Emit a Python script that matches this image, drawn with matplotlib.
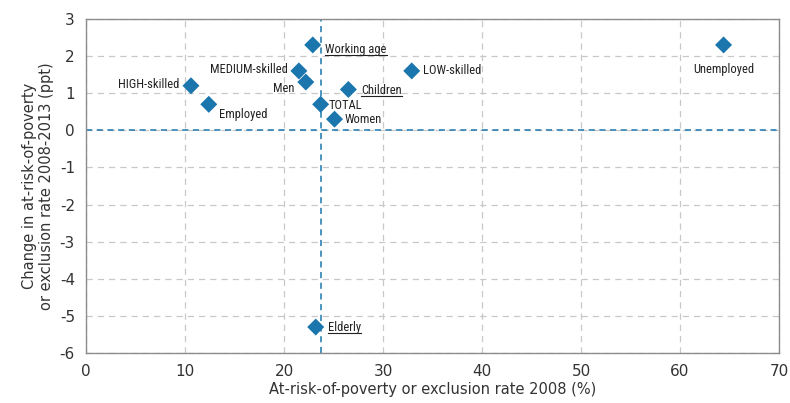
import matplotlib
matplotlib.use("Agg")
from matplotlib import pyplot as plt
from matplotlib import font_manager
import numpy as np

# groups, 2008 rate (%) and change 2008-2013 (ppt)
groups = ['Working age', 'MEDIUM-skilled', 'Men', 'HIGH-skilled', 'Employed', 'TOTAL',
          'Children', 'Women', 'LOW-skilled', 'Unemployed', 'Elderly']
rate_2008 = [22.9, 21.5, 22.2, 10.6, 12.4, 23.7, 26.5, 25.1, 32.9, 64.4, 23.2]
change = [2.3, 1.6, 1.3, 1.2, 0.7, 0.7, 1.1, 0.3, 1.6, 2.3, -5.3]
underlined = ['Working age', 'Children', 'Elderly']

# label placement (offset in points, alignment)
offsets = {
    'Working age': ((9, -3), 'left'),
    'MEDIUM-skilled': ((-8, 1), 'right'),
    'Men': ((-8, -5), 'right'),
    'HIGH-skilled': ((-8, 1), 'right'),
    'Employed': ((7, -7), 'left'),
    'TOTAL': ((6, -1), 'left'),
    'Children': ((9, -1), 'left'),
    'Women': ((7, 0), 'left'),
    'LOW-skilled': ((8, 0), 'left'),
    'Unemployed': ((0, -18), 'center'),
    'Elderly': ((9, 0), 'left'),
}

blue = '#1a76ad'
plt.rcParams['font.family'] = ['DejaVu Sans']
plt.rcParams['axes.unicode_minus'] = False

# find a narrow font if one is there
names = {f.name for f in font_manager.fontManager.ttflist}
narrow = None
for cand in ['Liberation Sans Narrow', 'Roboto Condensed', 'Open Sans Condensed', 'DejaVu Sans Condensed']:
    if cand in names:
        narrow = cand
        break
cond_files = [f for f in font_manager.fontManager.ttflist
              if 'Condensed' in f.fname and 'DejaVuSans' in f.fname and 'Bold' not in f.fname
              and 'Oblique' not in f.fname]
if narrow:
    label_font = font_manager.FontProperties(family=narrow, size=9)
elif cond_files:
    label_font = font_manager.FontProperties(fname=cond_files[0].fname, size=9)
else:
    label_font = font_manager.FontProperties(family='DejaVu Sans', stretch='condensed', size=9)

fig = plt.figure(figsize=(7.9, 4.03), dpi=100)
ax = fig.add_axes([0.1089, 0.124, 0.8772, 0.829])

ax.set_xlim(0, 70)
ax.set_ylim(-6, 3)
ax.set_xticks(np.arange(0, 71, 10))
ax.set_yticks(np.arange(-6, 4, 1))
ax.grid(True, color='#c8c8c8', linestyle=(0, (5, 4)), linewidth=0.9)
ax.set_axisbelow(True)
for s in ax.spines.values():
    s.set_color('#8c8c8c')
    s.set_linewidth(1.0)
ax.tick_params(length=0, labelsize=11, labelcolor='#333333', pad=8)

total_x = rate_2008[groups.index('TOTAL')]
ax.axhline(0, color=blue, linestyle=(0, (4, 3)), linewidth=1.1, zorder=2)
ax.axvline(total_x, color=blue, linestyle=(0, (4, 3)), linewidth=1.1, zorder=2)

ax.scatter(rate_2008, change, marker='D', s=75, color=blue, edgecolor='none', zorder=3)

texts = []
for g, x, y in zip(groups, rate_2008, change):
    off, ha = offsets[g]
    t = ax.annotate(g, (x, y), xytext=off, textcoords='offset points', ha=ha, va='center',
                    fontproperties=label_font, color='#222222')
    texts.append((g, t))

ax.set_xlabel('At-risk-of-poverty or exclusion rate 2008 (%)', fontsize=10.5, color='#333333', labelpad=2)
ax.set_ylabel('Change in at-risk-of-poverty\nor exclusion rate 2008-2013 (ppt)', fontsize=10.5,
              color='#333333', labelpad=4)

# underline some labels
fig.canvas.draw()
renderer = fig.canvas.get_renderer()
inv = fig.transFigure.inverted()
for g, t in texts:
    if g in underlined:
        bb = t.get_window_extent(renderer)
        (x0, y0), (x1, _) = inv.transform([(bb.x0, bb.y0 + 1), (bb.x1, bb.y0 + 1)])
        fig.add_artist(plt.Line2D([x0, x1], [y0, y0], color='#222222', linewidth=0.8,
                                  transform=fig.transFigure))

fig.savefig('out.png', dpi=100)
